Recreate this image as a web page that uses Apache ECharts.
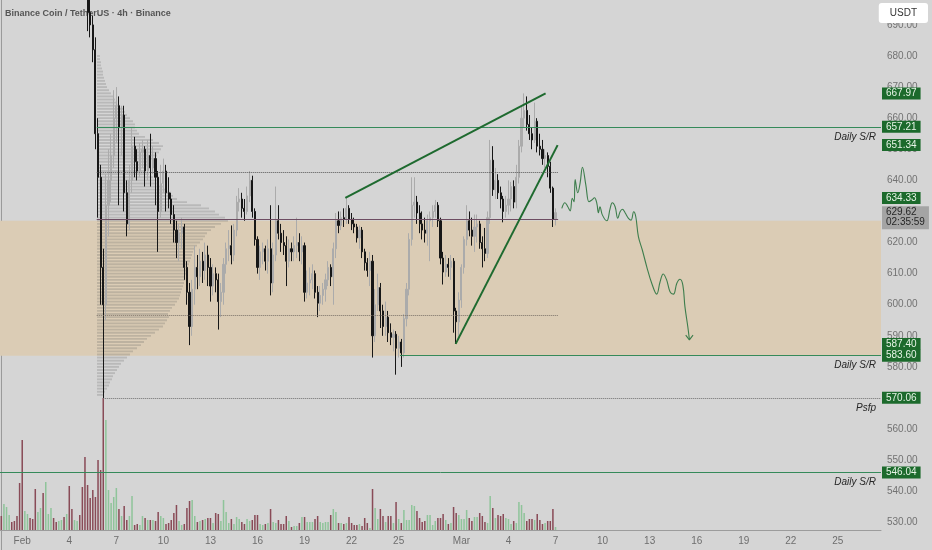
<!DOCTYPE html>
<html><head><meta charset="utf-8">
<script src="https://cdn.jsdelivr.net/npm/echarts@6.0.0/dist/echarts.min.js"></script>
<style>html,body{margin:0;padding:0;background:#d5d5d5;}#c{width:932px;height:550px;}</style>
</head><body><div id="c"></div>
<script>
// ---------- data ----------
const titleText = 'Binance Coin / TetherUS · 4h · Binance';
const startTime = Date.UTC(2025, 0, 30, 16);   // first 4h slot
const slotCount = 337;                          // 4h slots on the time axis
const slotHours = 4;
const tickDays = [1, 4, 7, 10, 13, 16, 19, 22, 25];
const monthNames = ['Jan', 'Feb', 'Mar', 'Apr'];

// 4h candles: [open, close, low, high]
const candles = [
[742,736,733,745],[736,741,734,744],[741,745,739,748],[745,747,743,750],[747,744,742,749],
[744,742,740,746],[742,739,737,744],[739,728,725,741],[728,712,706,730],[712,718,710,721],
[718,722,716,724],[722,720,717,724],[720,718,715,722],[718,709,704,720],[709,713,707,716],
[713,717,711,719],[717,710,707,719],[710,719,708,722],[719,721,717,724],[721,724,719,727],
[724,722,720,726],[722,721,719,724],[721,723,719,725],[723,725,721,727],[725,722,719,726],
[722,724,720,726],[724,713,707,725],[713,710,706,715],[710,712,708,714],[712,713,709,715],
[713,711,707,714],[711,705,701,713],[705,702,699,707],[702,694,688,706],[694,690,686,699],
[690,682,678,693],[682,655,650,686],[655,641,628,660],[641,612,600,645],[612,600,570,618],
[600,632,595,642],[632,640,622,650],[640,648,633,655],[648,660,644,669],[660,664,652,670],
[664,657,632,667],[657,661,648,664],[661,636,630,664],[636,626,622,640],[626,640,624,645],
[640,651,636,657],[651,646,641,654],[646,643,640,650],[643,649,641,652],[649,650,644,653],
[650,643,638,651],[643,648,640,653],[648,644,638,655],[644,647,642,651],[647,641,632,649],
[641,630,617,643],[630,639,628,645],[639,643,636,647],[643,636,630,645],[636,634,631,641],
[634,629,626,636],[629,624,620,632],[624,620,615,627],[620,623,614,626],[623,625,618,628],
[625,612,608,626],[612,604,600,614],[604,593,587,607],[593,605,590,608],[605,612,600,619],
[612,609,605,616],[609,614,606,618],[614,611,607,617],[611,616,608,620],[616,612,606,619],
[612,606,601,615],[606,610,603,613],[610,608,604,612],[608,601,592,610],[601,604,596,607],
[604,613,600,615],[613,618,610,620],[618,619,614,624],[619,616,613,625.5],[616,624,614,626],
[624,633,622,635],[633,634,630,637.5],[634,631,628,636],[631,630,627,634],[630,635,629,638],
[635,640,633,643],[640,630,628,641.5],[630,621,619,631],[621,612,610,622],[612,617,608,619],
[617,618,613,620],[618,614,611,619],[614,618,610,621],[618,607,603,632],[607,616,604,620],
[616,627,614,638],[627,623,621,632],[623,620,617,626],[620,619,616,624],[619,614,606,622],
[614,618,612,621],[618,617,614,620],[617,619,614,622],[619,620,615,628],[620,617,614,623],
[617,619,613,622],[619,604,601,620],[604,607,602,611],[607,608,603,612],[608,610,605,613],
[610,604,602,611],[604,600.5,596,606],[600.5,603,598,606],[603,605,600,607],[605,608,601,610],
[608,612,606,614],[612,609,606,613],[609,618,600,620],[618,627,615,629.5],[627,625.5,623,630],
[625.5,628,624,630],[628,627.5,625,631],[627.5,631,626,634.4],[631,627.5,626,632],[627.5,626,624,629.5],
[626,625,623,628],[625,621.5,620,626],[621.5,624,618,625.5],[624,617,615,625],[617,613.5,611,618],
[613.5,611,609,615],[611,614,606,617],[614,590,583,616],[590,600,588,605],[600,605.5,598,610],
[605.5,598,592.5,607],[598,593,590,600],[593,596,590,601],[596,591,588,598],[591,589.5,587,594],
[589.5,590.5,585,592],[590.5,586,577.5,591.5],[586,588,583,590],[588,584.5,580,589],[584.5,595.5,583,597],
[595.5,605,593,607],[605,621,603,623],[621,632,619,641],[632,633,628,641],[633,629.5,626,635],
[629.5,626,623,632],[626,624,621,630],[624,623,620,628],[623,627,619,629],[627,628,614,630],
[628,630,625,632],[630,632,628,633.7],[632,627,625,633],[627,615,613,628],[615,610.5,606.5,617],
[610.5,613,609,616],[613,612,609,615],[612,614,608,616],[614,598,591,615],[598,594.5,587.4,599],
[594.5,601.5,589,604],[601.5,612,599,613],[612,621,610,622],[621,627,619,632],[627,624,622,630],
[624,622,619,628],[622,625,617,629],[625,626,620,629],[626,620,618,627],[620,618,612,622],
[618,616.5,614,624.7],[616.5,628,615,630],[628,646.5,626,653],[646.5,637,635,651],[637,640,634,644],
[640,636,634,642],[636,634,631,638],[634,630,626.5,635],[630,632,628,635],[632,634,629,640],
[634,638,630,639.5],[638,633,631,640],[633,641,631,645],[641,651,639,653],[651,660,649,664],
[660,662.5,657,667.97],[662.5,658,656,667],[658,655,653,661],[655,653,650,657],[653,659,652,665],
[659,651,649,660],[651,650,648,655],[650,647,645,653],[647,648,644,650],[648,644.5,641,649],
[644.5,637.5,636,646],[637.5,627.5,625,638],[627.5,629.62,625.5,631]
];

const volumes = [
14,26,23,15,8,9,14,47,90,19, 16,12,11,41,18,22,37,48,16,22,
12,8,9,10,13,16,44,21,10,9, 15,43,73,45,32,40,33,70,60,132,
110,40,27,33,42,21,14,24,10,14, 34,5,6,5,14,12,10,10,10,9,
18,14,12,6,7,10,17,25,9,5, 6,22,29,30,14,8,9,10,11,12,
12,7,17,16,9,30,18,7,11,6, 13,11,8,6,11,9,10,15,15,6,
5,6,7,21,8,7,10,6,6,14, 9,3,4,4,7,13,13,8,8,8,
11,14,8,7,8,8,15,21,18,7, 7,6,7,13,7,5,5,6,4,12,
7,2,41,22,11,21,14,8,14,14, 7,28,11,7,20,10,10,25,24,19,
12,8,9,15,15,5,9,12,12,16, 10,6,7,23,17,15,11,11,20,12,
9,13,13,17,14,8,7,34,22,12, 15,14,16,12,11,6,9,7,28,25,
17,9,11,11,10,16,10,6,7,9, 9,21,3
];

// fixed-range volume profile, one row per 1 USDT from profileLow upward
const profileLow = 571;
const profileVolumes = [
6,8,10,12,13,15,16,18,20,22, 24,27,30,33,36,40,44,47,50,54,
58,62,66,68,70,72,71,73,75,78, 80,82,83,84,85,86,87,88,88,89,
90,91,92,93,94,95,96,98,100,103, 106,108,110,114,118,124,131,128,122,118,
112,104,90,80,76,74,70,66,62,60, 56,52,48,48,50,54,58,60,62,64,
66,62,56,48,42,40,38,38,36,33, 30,28,26,23,20,18,16,14,12,10,
9,8,7,6,6,5,4,4,3,3
];

// horizontal levels (price, first slot)
const srPrices = [657.21, 583.60, 546.04];
const srStarts = [36.5, 152.5, -0.5];
const psfpPrice = 570.06, psfpStart = 39;
const vahPrice = 642.5, pocPrice = 627.4, valPrice = 596.5;
const profileFrom = 36.5, profileTo = 213;
const zoneTop = 627.0, zoneBottom = 583.6;
const trendTagPrices = [667.97, 651.34, 634.33, 587.40];
const lastPrice = 629.62, countdown = '02:35:59';

// rising wedge trendlines: [slot, price]
const upperWedge = [[131.6, 634.33], [208.2, 667.97]];
const lowerWedge = [[173.8, 587.40], [212.8, 651.34]];

// projected path (slot, price)
const projSlots = [214.4,215.6,216.7,217.6,218.4,219.1,219.5,220.5,221.4,222.3,223.6,224.8,225.9,226.9,227.8,228.4,229.0,229.9,231.6,232.9,233.7,234.8,235.8,236.7,237.6,238.6,239.9,240.9,241.9,242.7,243.7,245.2,246.9,248.8,250.7,252.0,253.2,254.5,255.8,257.1,258.4,259.6,260.7,261.5,262.6,263.2];
const projPrices = [631.0,632.8,631.5,630.2,634.2,633.1,640.3,636.0,639.1,644.2,638.5,633.1,633.7,634.4,632.6,629.6,631.5,628.9,627.0,631.0,632.8,631.5,627.8,629.9,630.7,629.6,627.8,627.2,629.9,628.3,621.9,617.6,612.2,606.9,603.4,607.4,609.9,608.0,604.2,603.4,606.9,608.2,606.3,599.4,592.9,588.9];
const arrowSlots = [261.8, 263.2, 264.6];
const arrowPrices = [590.2, 588.7, 590.2];

// ---------- build ----------
const H = 3600000;
const categories = [];
for (let i = 0; i < slotCount; i++) categories.push(new Date(startTime + i * slotHours * H).toISOString().slice(0, 13));
const slotDate = i => new Date(startTime + i * slotHours * H);

const UP = '#ababab', DOWN = '#171717';
const VUP = '#8fc49a', VDOWN = '#894b57';
const GREEN = '#358a5a', TAG = '#1c6a2c';
const FONT = 'Liberation Sans';

const volData = volumes.map((v, i) => ({value: v, itemStyle: {color: candles[i][1] >= candles[i][0] ? VUP : VDOWN}}));
const profileData = profileVolumes.map((v, i) => [v, profileLow + i]);

const italicLabel = txt => ({show: true, position: 'insideEndBottom', formatter: txt, color: '#262626',
  fontStyle: 'italic', fontSize: 10, fontFamily: FONT, distance: 5});
const seg = (x0, x1, y, style, label) => [{coord: [x0, y], lineStyle: style, label: label || {show: false}}, {coord: [x1, y]}];

const levelMarks = [];
srPrices.forEach((p, i) => levelMarks.push(seg(srStarts[i], slotCount - 0.5, p, {color: GREEN, width: 1, type: 'solid', opacity: 1}, italicLabel('Daily S/R'))));
levelMarks.push(seg(psfpStart, slotCount - 0.5, psfpPrice, {color: '#6f6f6f', width: 1, type: 'dotted'}, italicLabel('Psfp')));
levelMarks.push(seg(profileFrom, profileTo, vahPrice, {color: '#555', width: 1, type: 'dotted'}));
levelMarks.push(seg(profileFrom, profileTo, pocPrice, {color: '#6d4c62', width: 1.2, type: 'solid'}));
levelMarks.push(seg(profileFrom, profileTo, valPrice, {color: '#7a7067', width: 1, type: 'dotted'}));

// price tags on the right scale
const tagPrices = srPrices.concat([psfpPrice], trendTagPrices);
const tagMarks = tagPrices.map(p => ({yAxis: p,
  label: {show: true, position: 'end', distance: 1, formatter: p.toFixed(2), backgroundColor: TAG, color: '#e6f4e6',
    fontSize: 10, fontFamily: FONT, padding: [1, 4, 0, 4], lineHeight: 11}}));
tagMarks.push({yAxis: lastPrice,
  label: {show: true, position: 'end', distance: 1, offset: [0, 5], formatter: lastPrice.toFixed(2) + '\n' + countdown,
    backgroundColor: '#a4a4a4', color: '#262626', fontSize: 10, fontFamily: FONT, padding: [2, 4, 1, 4], lineHeight: 10}});

const chart = echarts.init(document.getElementById('c'), null, {renderer: 'canvas'});
const mainTop = -6.18, mainBottom = -3.44;
chart.setOption({
  animation: false,
  backgroundColor: '#d5d5d5',
  title: {text: titleText, left: 0, top: 4, z: 1,
    textStyle: {fontSize: 9, fontWeight: 600, color: '#555', fontFamily: 'Liberation Sans Narrow, ' + FONT}},
  grid: [
    {left: 0, right: 51, top: mainTop, bottom: mainBottom, outerBoundsMode: 'none', containLabel: false},
    {left: 0, right: 51, top: 370, bottom: 20, outerBoundsMode: 'none', containLabel: false},
    {left: 97, width: 140, top: mainTop, bottom: mainBottom, outerBoundsMode: 'none', containLabel: false}
  ],
  xAxis: [
    {type: 'category', gridIndex: 0, data: categories, show: false},
    {type: 'value', gridIndex: 0, min: -0.5, max: slotCount - 0.5, show: false},
    {type: 'category', gridIndex: 1, data: categories,
      axisLine: {lineStyle: {color: '#9c9c9c'}}, axisTick: {show: false},
      axisLabel: {color: '#6e6e6e', fontSize: 10, fontFamily: FONT, margin: 6, hideOverlap: false,
        interval: (idx) => { const d = slotDate(idx); return d.getUTCHours() === 0 && tickDays.includes(d.getUTCDate()); },
        formatter: (val, idx) => { const d = slotDate(idx); return d.getUTCDate() === 1 ? monthNames[d.getUTCMonth()] : String(d.getUTCDate()); }}},
    {type: 'value', gridIndex: 2, min: 0, max: 140, show: false}
  ],
  yAxis: [
    {type: 'value', gridIndex: 0, position: 'right', min: 520, max: 700, interval: 10,
      axisLine: {show: true, lineStyle: {color: '#9a9a9a'}}, axisTick: {show: false}, splitLine: {show: false},
      axisLabel: {color: '#727272', fontSize: 10, fontFamily: FONT, margin: 6, showMinLabel: false, showMaxLabel: false,
        formatter: v => v.toFixed(2)}},
    {type: 'value', gridIndex: 1, min: 0, max: 160, show: false},
    {type: 'value', gridIndex: 2, min: 520, max: 700, show: false}
  ],
  graphic: [{type: 'text', right: 4, top: 3, z: 100,
    style: {text: 'USDT', fill: '#333', font: '10px ' + FONT, backgroundColor: '#ffffff', padding: [5, 11, 5, 11], borderRadius: 3}}],
  series: [
    {name: 'zone', type: 'line', xAxisIndex: 1, yAxisIndex: 0, data: [[-0.5, 500]], showSymbol: false, z: 0, silent: true,
      markArea: {silent: true, itemStyle: {color: '#dbccb5'}, data: [[{yAxis: zoneTop}, {yAxis: zoneBottom}]]}},
    {name: 'profile', type: 'custom', xAxisIndex: 3, yAxisIndex: 2, data: profileData, z: 1, silent: true,
      renderItem: (params, api) => {
        const v = api.value(0), p = api.value(1);
        const a = api.coord([0, p]), b = api.coord([v, p]);
        const h = api.size([0, 1])[1];
        return {type: 'rect', shape: {x: a[0], y: a[1] - h * 0.3, width: b[0] - a[0], height: h * 0.6},
          style: {fill: 'rgba(95,95,95,0.24)'}};
      }},
    {name: 'volume', type: 'bar', xAxisIndex: 2, yAxisIndex: 1, data: volData, barWidth: '58%', z: 1, silent: true},
    {name: 'BNBUSDT', type: 'candlestick', xAxisIndex: 0, yAxisIndex: 0, data: candles, barWidth: '62%', z: 3,
      itemStyle: {color: UP, color0: DOWN, borderColor: UP, borderColor0: DOWN, borderWidth: 1}},
    {name: 'levels', type: 'line', xAxisIndex: 1, yAxisIndex: 0, data: [[-0.5, 500]], showSymbol: false, z: 4, silent: true,
      markLine: {silent: true, symbol: ['none', 'none'], animation: false, data: levelMarks}},
    {name: 'tags', type: 'line', xAxisIndex: 1, yAxisIndex: 0, data: [[-0.5, 500]], showSymbol: false, z: 6, silent: true,
      markLine: {silent: true, symbol: ['none', 'none'], animation: false,
        lineStyle: {color: 'rgba(0,0,0,0)', width: 1, type: 'solid'}, data: tagMarks}},
    {name: 'upperWedge', type: 'line', xAxisIndex: 1, yAxisIndex: 0, data: upperWedge, showSymbol: false, z: 5,
      lineStyle: {color: '#1e6a2f', width: 2}},
    {name: 'lowerWedge', type: 'line', xAxisIndex: 1, yAxisIndex: 0, data: lowerWedge, showSymbol: false, z: 5,
      lineStyle: {color: '#1e6a2f', width: 2}},
    {name: 'projection', type: 'line', xAxisIndex: 1, yAxisIndex: 0, smooth: 0.4, showSymbol: false, z: 5,
      data: projSlots.map((k, i) => [k, projPrices[i]]), lineStyle: {color: '#3d7d4c', width: 1.1}},
    {name: 'arrow', type: 'line', xAxisIndex: 1, yAxisIndex: 0, showSymbol: false, z: 5,
      data: arrowSlots.map((k, i) => [k, arrowPrices[i]]), lineStyle: {color: '#3d7d4c', width: 1.1}}
  ]
});
</script>
</body></html>
